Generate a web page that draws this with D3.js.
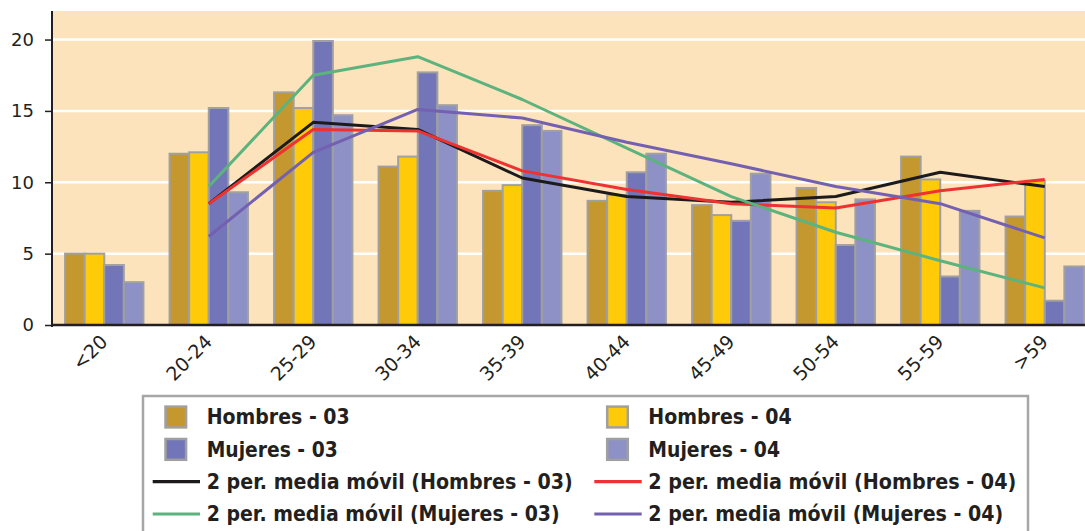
<!DOCTYPE html>
<html>
<head>
<meta charset="utf-8">
<script src="https://cdn.jsdelivr.net/npm/d3@7"></script>
<style>
html,body{margin:0;padding:0;background:#fff;}
svg{display:block;}
text{font-family:"DejaVu Sans",Verdana,sans-serif;fill:#231f20;}
</style>
</head>
<body>
<svg id="chart" width="1085" height="531"></svg>
<script>
const categories = ["<20","20-24","25-29","30-34","35-39","40-44","45-49","50-54","55-59",">59"];
const hombres03 = [5.0,12.0,16.3,11.1,9.4,8.7,8.4,9.6,11.8,7.6];
const hombres04 = [5.0,12.1,15.2,11.8,9.8,9.1,7.7,8.6,10.2,10.1];
const mujeres03 = [4.2,15.2,19.9,17.7,14.0,10.7,7.3,5.6,3.4,1.7];
const mujeres04 = [3.0,9.3,14.7,15.4,13.6,12.0,10.6,8.8,8.0,4.1];
// 2-period moving averages (first category has none)
const maHombres03 = [null,8.5,14.2,13.7,10.3,9.0,8.6,9.0,10.7,9.7];
const maHombres04 = [null,8.5,13.7,13.6,10.8,9.5,8.5,8.2,9.4,10.2];
const maMujeres03 = [null,9.7,17.5,18.8,15.8,12.4,9.0,6.5,4.5,2.6];
const maMujeres04 = [null,6.2,12.1,15.1,14.5,12.8,11.3,9.7,8.5,6.1];
const yTicks = [0,5,10,15,20];

const barSeries = [
  {name:"Hombres - 03", values:hombres03, color:"#c4982e"},
  {name:"Hombres - 04", values:hombres04, color:"#ffcb08"},
  {name:"Mujeres - 03", values:mujeres03, color:"#7275b8"},
  {name:"Mujeres - 04", values:mujeres04, color:"#8e91c6"}
];
const lineSeries = [
  {name:"2 per. media móvil (Hombres - 03)", values:maHombres03, color:"#1c1a1a"},
  {name:"2 per. media móvil (Hombres - 04)", values:maHombres04, color:"#ee3131"},
  {name:"2 per. media móvil (Mujeres - 03)", values:maMujeres03, color:"#5db37e"},
  {name:"2 per. media móvil (Mujeres - 04)", values:maMujeres04, color:"#7460b0"}
];

const svg = d3.select("#chart");
const plotLeft = 52, plotTop = 11, plotBottom = 325, plotRight = 1097;

const x = d3.scaleBand().domain(categories).range([plotLeft, plotRight]).paddingInner(0.25).paddingOuter(0.125);
const xs = d3.scaleBand().domain(d3.range(barSeries.length)).range([0, x.bandwidth()]);
const y = d3.scaleLinear().domain([0,22]).range([plotBottom, plotTop]);

// plot background
svg.append("rect").attr("x", plotLeft).attr("y", plotTop).attr("width", 1085-plotLeft).attr("height", plotBottom-plotTop).attr("fill", "#fde3bb");

// gridlines
svg.append("g").selectAll("line").data(yTicks.filter(d=>d>0)).join("line")
  .attr("x1", plotLeft).attr("x2", 1085).attr("y1", d=>y(d)).attr("y2", d=>y(d))
  .attr("stroke", "#fff").attr("stroke-width", 2.5);

// bars
const groups = svg.append("g").selectAll("g").data(categories).join("g")
  .attr("transform", d=>`translate(${x(d)},0)`);
barSeries.forEach((s, si) => {
  groups.append("rect")
    .attr("x", xs(si)).attr("width", xs.bandwidth())
    .attr("y", (d,i)=>y(s.values[i])).attr("height", (d,i)=>y(0)-y(s.values[i]))
    .attr("fill", s.color).attr("stroke", "#a0a0a0").attr("stroke-width", 2);
});

// moving average lines
const line = d3.line().defined(d=>d.v!=null).x(d=>x(d.c)+x.bandwidth()/2).y(d=>y(d.v));
lineSeries.forEach(s => {
  svg.append("path")
    .datum(categories.map((c,i)=>({c, v:s.values[i]})))
    .attr("d", line).attr("fill", "none").attr("stroke", s.color)
    .attr("stroke-width", 3).attr("stroke-linejoin", "round");
});

// y axis
const yAxis = svg.append("g").attr("transform", `translate(${plotLeft},0)`)
  .call(d3.axisLeft(y).tickValues(yTicks).tickSize(7).tickPadding(11));
yAxis.select(".domain").attr("d", `M0,${plotTop}V${plotBottom+2}`).attr("stroke", "#231f20").attr("stroke-width", 2);
yAxis.selectAll(".tick line").attr("stroke", "#231f20").attr("stroke-width", 1.5);
yAxis.selectAll("text").attr("font-size", 18).attr("fill", "#231f20").attr("font-family", "DejaVu Sans");

// x axis
const xAxis = svg.append("g").attr("transform", `translate(0,${plotBottom})`)
  .call(d3.axisBottom(x).tickSize(0).tickPadding(0));
xAxis.select(".domain").attr("d", `M${plotLeft},0H1085`).attr("stroke", "#231f20").attr("stroke-width", 2.5);
xAxis.selectAll("text")
  .attr("font-size", 19).attr("fill", "#231f20").attr("font-family", "DejaVu Sans")
  .attr("text-anchor", "end").attr("dy", null).attr("y", 0)
  .attr("transform", "translate(4.5,18) rotate(-45)");

// legend
const lg = svg.append("g");
lg.append("rect").attr("x", 143).attr("y", 396).attr("width", 885).attr("height", 160)
  .attr("fill", "#fff").attr("stroke", "#a6a6a6").attr("stroke-width", 2.5);
const rowBase = [424.3, 456.7, 489, 521.3];
const colSwatch = [165.5, 607.2];
const colText = [206.7, 648.3];
const colLine = [[152.7,200],[594.3,641.7]];
const legendItems = [
  {s:barSeries[0], type:"bar", col:0, row:0, w:143},
  {s:barSeries[1], type:"bar", col:1, row:0, w:143.4},
  {s:barSeries[2], type:"bar", col:0, row:1, w:131},
  {s:barSeries[3], type:"bar", col:1, row:1, w:131.7},
  {s:lineSeries[0], type:"line", col:0, row:2, w:366},
  {s:lineSeries[1], type:"line", col:1, row:2, w:368},
  {s:lineSeries[2], type:"line", col:0, row:3, w:353},
  {s:lineSeries[3], type:"line", col:1, row:3, w:355}
];
legendItems.forEach(it => {
  const base = rowBase[it.row];
  const cy = base - 7.3;
  if (it.type === "bar") {
    lg.append("rect").attr("x", colSwatch[it.col]).attr("y", cy-10.4).attr("width", 20.6).attr("height", 20.8)
      .attr("fill", it.s.color).attr("stroke", "#a0a0a0").attr("stroke-width", 2.5);
  } else {
    lg.append("line").attr("x1", colLine[it.col][0]).attr("x2", colLine[it.col][1])
      .attr("y1", cy).attr("y2", cy).attr("stroke", it.s.color).attr("stroke-width", 3.2);
  }
  lg.append("text").attr("x", colText[it.col]).attr("y", base)
    .attr("font-size", 21.5).attr("font-weight", "bold").attr("fill", "#231f20")
    .attr("textLength", it.w).attr("lengthAdjust", "spacingAndGlyphs")
    .text(it.s.name);
});
</script>
</body>
</html>
